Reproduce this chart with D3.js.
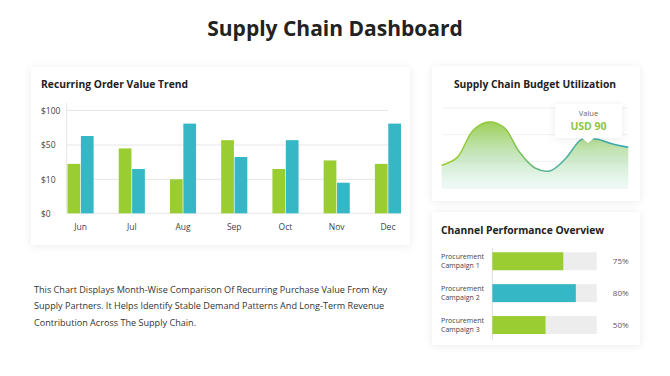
<!DOCTYPE html>
<html>
<head>
<meta charset="utf-8">
<script src="https://cdn.jsdelivr.net/npm/d3@7"></script>
<style>
  body { margin: 0; background: #fff; }
  svg { display: block; font-family: 'Open Sans', 'Noto Sans', sans-serif; }
</style>
</head>
<body>
<div id="chart"></div>
<script>
// -------- Data --------
const months = ['Jun', 'Jul', 'Aug', 'Sep', 'Oct', 'Nov', 'Dec'];
const greenValues = [28, 46, 10, 57, 22, 32, 28];
const tealValues  = [63, 22, 81, 36, 57, 9, 81];
const yTicks = [0, 10, 50, 100];

const budgetSteps  = [0, 1, 2, 3, 4, 5, 6, 7, 8, 9, 10, 11, 12];
const budgetValues = [34, 46, 86, 99, 91, 54, 30, 26, 45, 73, 73, 66, 61];
const budgetGrid   = [0, 40, 80, 120];
const tooltipLabel = 'Value';
const tooltipValue = 'USD 90';

const campaigns = ['Procurement Campaign 1', 'Procurement Campaign 2', 'Procurement Campaign 3'];
const campaignValues = [68, 80, 51];
const campaignLabels = ['75%', '80%', '50%'];

const description = [
  'This Chart Displays Month-Wise Comparison Of Recurring Purchase Value From Key',
  'Supply Partners. It Helps Identify Stable Demand Patterns And Long-Term Revenue',
  'Contribution Across The Supply Chain.'
];

// -------- Colours --------
const GREEN = '#9acd32';
const TEAL  = '#35b7c6';

// -------- SVG --------
const svg = d3.select('#chart').append('svg')
  .attr('width', 670)
  .attr('height', 376);

const defs = svg.append('defs');
defs.append('filter')
    .attr('id', 'shadow')
    .attr('x', '-10%').attr('y', '-10%')
    .attr('width', '120%').attr('height', '130%')
  .append('feDropShadow')
    .attr('dx', 0).attr('dy', 1)
    .attr('stdDeviation', 4)
    .attr('flood-color', '#000')
    .attr('flood-opacity', 0.08);

// title
svg.append('text')
  .attr('x', 335).attr('y', 36)
  .attr('text-anchor', 'middle')
  .attr('fill', '#222')
  .style('font-size', '21px')
  .style('font-weight', 700)
  .text('Supply Chain Dashboard');

// cards
const cards = [
  { x: 31, y: 67, w: 379, h: 178 },
  { x: 432, y: 66, w: 208, h: 135 },
  { x: 432, y: 212, w: 208, h: 133 }
];
svg.selectAll('rect.card')
  .data(cards)
  .join('rect')
    .attr('class', 'card')
    .attr('x', d => d.x).attr('y', d => d.y)
    .attr('width', d => d.w).attr('height', d => d.h)
    .attr('rx', 2)
    .attr('fill', '#fff')
    .attr('filter', 'url(#shadow)');

// -------- Recurring Order Value Trend --------
svg.append('text')
  .attr('x', 41).attr('y', 88)
  .attr('fill', '#222')
  .style('font-size', '10.3px')
  .style('font-weight', 700)
  .text('Recurring Order Value Trend');

const x0 = d3.scaleBand()
  .domain(months)
  .range([67.5, 401])
  .paddingInner(0.49);

const x1 = d3.scaleBand()
  .domain(['green', 'teal'])
  .range([0, x0.bandwidth()])
  .paddingInner(0.05);

const yBar = d3.scaleLinear()
  .domain([0, 10, 50, 100])
  .range([213.3, 179.3, 145, 110.5]);

// gridlines
svg.append('g')
  .selectAll('line')
  .data(yTicks)
  .join('line')
    .attr('x1', 66.7)
    .attr('x2', d => d === 0 ? 401 : 388)
    .attr('y1', d => yBar(d)).attr('y2', d => yBar(d))
    .attr('stroke', '#e6e6e6')
    .attr('stroke-width', 1);

svg.append('line')
  .attr('x1', 66.7).attr('x2', 66.7)
  .attr('y1', 103).attr('y2', 213.3)
  .attr('stroke', '#e6e6e6');

// y axis labels
const yAxisG = svg.append('g')
  .attr('transform', 'translate(66.7,0)')
  .call(d3.axisLeft(yBar).tickValues(yTicks).tickFormat(d => '$' + d).tickSize(0));
yAxisG.select('.domain').remove();
yAxisG.selectAll('text')
  .attr('x', -25.7)
  .attr('text-anchor', 'start')
  .attr('fill', '#444')
  .style('font-size', '8.5px')
  .style('font-family', "'Open Sans', sans-serif");

// bars
const groups = svg.append('g')
  .selectAll('g')
  .data(months.map((m, i) => ({ month: m, green: greenValues[i], teal: tealValues[i] })))
  .join('g')
    .attr('transform', d => `translate(${x0(d.month)},0)`);

groups.selectAll('rect')
  .data(d => [{ key: 'green', v: d.green }, { key: 'teal', v: d.teal }])
  .join('rect')
    .attr('x', d => x1(d.key))
    .attr('y', d => yBar(d.v))
    .attr('width', x1.bandwidth())
    .attr('height', d => yBar(0) - yBar(d.v))
    .attr('fill', d => d.key === 'green' ? GREEN : TEAL);

// x axis labels
const xAxisG = svg.append('g')
  .attr('transform', 'translate(0,213.3)')
  .call(d3.axisBottom(x0).tickSize(0).tickPadding(11));
xAxisG.select('.domain').remove();
xAxisG.selectAll('text')
  .attr('fill', '#444')
  .style('font-size', '8.5px')
  .style('font-family', "'Open Sans', sans-serif");

// -------- Supply Chain Budget Utilization --------
svg.append('text')
  .attr('x', 535).attr('y', 88)
  .attr('text-anchor', 'middle')
  .attr('fill', '#222')
  .style('font-size', '10.3px')
  .style('font-weight', 700)
  .text('Supply Chain Budget Utilization');

const xArea = d3.scalePoint()
  .domain(budgetSteps)
  .range([441.7, 628.3]);

const yArea = d3.scaleLinear()
  .domain([0, 120])
  .range([188, 108]);

svg.append('g')
  .selectAll('line')
  .data(budgetGrid)
  .join('line')
    .attr('x1', 443).attr('x2', 628)
    .attr('y1', d => yArea(d)).attr('y2', d => yArea(d))
    .attr('stroke', '#f0f0f0');

const fillGrad = defs.append('linearGradient')
  .attr('id', 'areaFill')
  .attr('gradientUnits', 'userSpaceOnUse')
  .attr('x1', 0).attr('x2', 0)
  .attr('y1', 120).attr('y2', 190);
fillGrad.append('stop').attr('offset', '0%').attr('stop-color', '#96cc45').attr('stop-opacity', 0.95);
fillGrad.append('stop').attr('offset', '55%').attr('stop-color', '#a9d9a0').attr('stop-opacity', 0.6);
fillGrad.append('stop').attr('offset', '100%').attr('stop-color', '#c8ece4').attr('stop-opacity', 0.25);

const lineGrad = defs.append('linearGradient')
  .attr('id', 'areaLine')
  .attr('gradientUnits', 'userSpaceOnUse')
  .attr('x1', 441).attr('x2', 629)
  .attr('y1', 0).attr('y2', 0);
lineGrad.append('stop').attr('offset', '0%').attr('stop-color', '#9acd32');
lineGrad.append('stop').attr('offset', '35%').attr('stop-color', '#8cc63f');
lineGrad.append('stop').attr('offset', '60%').attr('stop-color', '#4fb0a0');
lineGrad.append('stop').attr('offset', '100%').attr('stop-color', '#35a7b0');

const areaData = budgetSteps.map((s, i) => ({ s, v: budgetValues[i] }));
const curve = d3.curveCatmullRom.alpha(0.5);

svg.append('path')
  .datum(areaData)
  .attr('fill', 'url(#areaFill)')
  .attr('d', d3.area()
    .x(d => xArea(d.s))
    .y0(yArea(0))
    .y1(d => yArea(d.v))
    .curve(curve));

svg.append('path')
  .datum(areaData)
  .attr('fill', 'none')
  .attr('stroke', 'url(#areaLine)')
  .attr('stroke-width', 1.5)
  .attr('d', d3.line()
    .x(d => xArea(d.s))
    .y(d => yArea(d.v))
    .curve(curve));

// tooltip
const tip = svg.append('g').attr('filter', 'url(#shadow)');
tip.append('path')
  .attr('d', 'M555,104 H622 V138 H594 L588,143 L582,138 H555 Z')
  .attr('fill', '#fff');
svg.append('text')
  .attr('x', 588.5).attr('y', 116)
  .attr('text-anchor', 'middle')
  .attr('fill', '#666')
  .style('font-size', '7.5px')
  .text(tooltipLabel);
svg.append('text')
  .attr('x', 588.5).attr('y', 130)
  .attr('text-anchor', 'middle')
  .attr('fill', '#8cc63f')
  .style('font-size', '10.5px')
  .style('font-weight', 700)
  .text(tooltipValue);

// -------- Channel Performance Overview --------
svg.append('text')
  .attr('x', 441).attr('y', 234)
  .attr('fill', '#222')
  .style('font-size', '10.3px')
  .style('font-weight', 700)
  .text('Channel Performance Overview');

const xCamp = d3.scaleLinear()
  .domain([0, 100])
  .range([492.3, 596.7]);

const yCamp = d3.scaleBand()
  .domain(campaigns)
  .range([245.3, 341])
  .paddingInner(0.4375)
  .paddingOuter(0.21875);

svg.append('line')
  .attr('x1', 492.3).attr('x2', 492.3)
  .attr('y1', 248).attr('y2', 340)
  .attr('stroke', '#dddddd');

const rows = svg.append('g')
  .selectAll('g')
  .data(campaigns.map((c, i) => ({ name: c, v: campaignValues[i], label: campaignLabels[i], i })))
  .join('g')
    .attr('transform', d => `translate(0,${yCamp(d.name)})`);

rows.append('rect')
  .attr('x', xCamp(0))
  .attr('width', xCamp(100) - xCamp(0))
  .attr('height', yCamp.bandwidth())
  .attr('fill', '#ededed');

rows.append('rect')
  .attr('x', xCamp(0))
  .attr('width', d => xCamp(d.v) - xCamp(0))
  .attr('height', yCamp.bandwidth())
  .attr('fill', d => d.i === 1 ? TEAL : GREEN);

// two-line labels, one text per line
rows.selectAll('text.lbl')
  .data(d => {
    const parts = d.name.split(' ');
    return [parts[0], parts.slice(1).join(' ')];
  })
  .join('text')
    .attr('class', 'lbl')
    .attr('x', 441)
    .attr('y', (d, i) => yCamp.bandwidth() / 2 - 1.8 + i * 8.6)
    .attr('fill', '#444')
    .style('font-size', '7px')
    .text(d => d);

rows.append('text')
  .attr('x', 620.7)
  .attr('y', yCamp.bandwidth() / 2 + 3)
  .attr('text-anchor', 'middle')
  .attr('fill', '#555')
  .style('font-size', '8px')
  .text(d => d.label);

// -------- Description --------
svg.append('g')
  .selectAll('text')
  .data(description)
  .join('text')
    .attr('x', 34)
    .attr('y', (d, i) => 292.5 + i * 16.7)
    .attr('fill', '#333')
    .style('font-size', '9.1px')
    .text(d => d);
</script>
</body>
</html>
